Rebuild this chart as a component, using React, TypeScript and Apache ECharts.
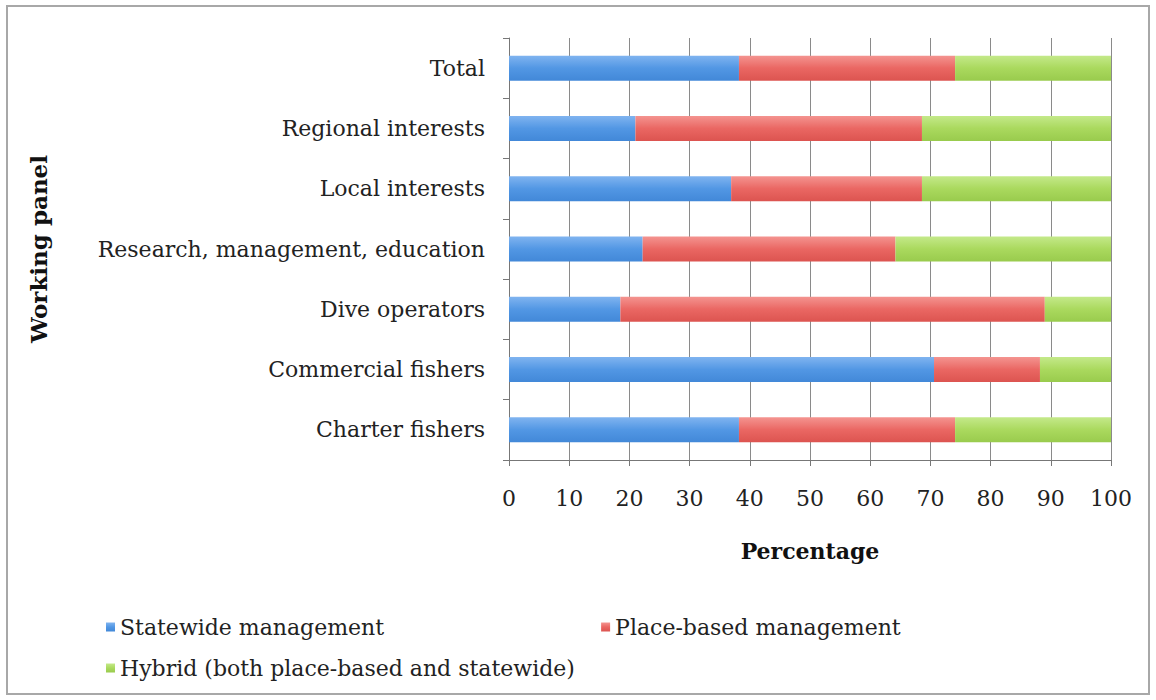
import React, { useEffect, useRef } from "react";
import * as echarts from "echarts";

const categories = [
  "Charter fishers",
  "Commercial fishers",
  "Dive operators",
  "Research, management, education",
  "Local interests",
  "Regional interests",
  "Total",
];
const statewide = [38.2, 70.6, 18.5, 22.2, 36.9, 21.0, 38.2];
const placeBased = [35.9, 17.6, 70.5, 42.0, 31.7, 47.6, 35.9];
const hybrid = [25.9, 11.8, 11.0, 35.8, 31.4, 31.4, 25.9];
const seriesNames = [
  "Statewide management",
  "Place-based management",
  "Hybrid (both place-based and statewide)",
];

const FONT = "DejaVu Serif";

function grad(top: string, mid: string, bottom: string) {
  return new echarts.graphic.LinearGradient(0, 0, 0, 1, [
    { offset: 0, color: top },
    { offset: 0.5, color: mid },
    { offset: 1, color: bottom },
  ]);
}

export default function App() {
  const ref = useRef<HTMLDivElement>(null);
  useEffect(() => {
    if (!ref.current) return;
    const chart = echarts.init(ref.current, null, { renderer: "svg" });
    const colors = [
      grad("#80b4f0", "#5297e4", "#4288d8"),
      grad("#f49490", "#ea6763", "#dc5450"),
      grad("#c4e98a", "#aad95e", "#99cb4d"),
    ];
    const legendColors = ["#5a8fd6", "#e25a5a", "#a6cf4a"];
    const data = [statewide, placeBased, hybrid];
    chart.setOption({
      animation: false,
      backgroundColor: "#ffffff",
      textStyle: { fontFamily: FONT },
      graphic: [
        {
          type: "rect",
          shape: { x: 7, y: 6, width: 1142, height: 688 },
          style: { fill: "none", stroke: "#a8a8a8", lineWidth: 2 },
          silent: true,
        },
      ],
      grid: { left: 509, right: 45, top: 38, bottom: 240 },
      legend: [
        {
          data: [seriesNames[0], seriesNames[1]],
          left: 101,
          top: 611,
          itemWidth: 9,
          itemHeight: 9,
          itemGap: 217,
          icon: "rect",
          textStyle: { fontFamily: FONT, fontSize: 22, color: "#222" },
        },
        {
          data: [seriesNames[2]],
          left: 101,
          top: 652,
          itemWidth: 9,
          itemHeight: 9,
          icon: "rect",
          textStyle: { fontFamily: FONT, fontSize: 22, color: "#222" },
        },
      ],
      xAxis: {
        type: "value",
        min: 0,
        max: 100,
        interval: 10,
        name: "Percentage",
        nameLocation: "middle",
        nameGap: 80,
        nameTextStyle: { fontFamily: FONT, fontSize: 22, fontWeight: "bold", color: "#111" },
        axisLine: { show: true, lineStyle: { color: "#777", width: 1 } },
        axisTick: { show: true, length: 6, lineStyle: { color: "#777" } },
        axisLabel: { fontFamily: FONT, fontSize: 22, color: "#222", margin: 27 },
        splitLine: { show: true, lineStyle: { color: "#8a8a8a", width: 1 } },
      },
      yAxis: {
        type: "category",
        data: categories,
        name: "Working panel",
        nameLocation: "middle",
        nameRotate: 90,
        nameGap: 459,
        nameTextStyle: { fontFamily: FONT, fontSize: 23, fontWeight: "bold", color: "#111" },
        axisLine: { show: true, lineStyle: { color: "#777" } },
        axisTick: { show: true, length: 6, lineStyle: { color: "#777" } },
        axisLabel: { fontFamily: FONT, fontSize: 22, color: "#222", margin: 24 },
      },
      series: data.map((d, i) => ({
        name: seriesNames[i],
        type: "bar",
        stack: "total",
        barWidth: 25,
        data: d,
        itemStyle: { color: colors[i] },
        emphasis: { disabled: true },
      })),
      color: legendColors,
    });
    return () => chart.dispose();
  }, []);
  return (
    <div
      ref={ref}
      style={{ position: "fixed", left: 0, top: 0, width: 1156, height: 700 }}
    />
  );
}
